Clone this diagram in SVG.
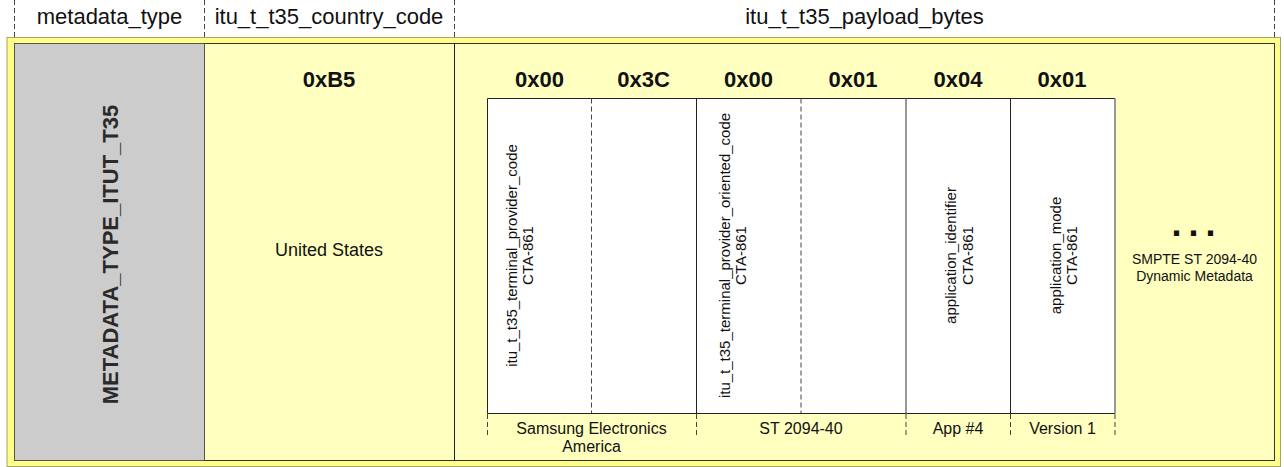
<svg xmlns="http://www.w3.org/2000/svg" width="1284" height="467" viewBox="0 0 1284 467">
<style>
text{font-family:"Liberation Sans",Arial,Helvetica,sans-serif;fill:#111}
.hdr{font-size:22px;text-anchor:middle}
.hex{font-size:22px;font-weight:bold;text-anchor:middle}
.vt{font-size:15px;text-anchor:middle}
.lbl{font-size:16px;text-anchor:middle}
.dash{stroke:#444;stroke-width:1;stroke-dasharray:5,3;fill:none}
.solid{stroke:#222;stroke-width:1;fill:none}
.grayline{stroke:#777;stroke-width:1.5;fill:none}
</style>
<rect x="7" y="37.5" width="1273.5" height="429" fill="#ffff88" stroke="#a5a36a" stroke-width="1"/>
<rect x="14.5" y="43.5" width="1260" height="417" fill="#ffffc0" stroke="#333" stroke-width="1"/>
<g id="header">
<text class="hdr" x="109.5" y="24">metadata_type</text>
<text class="hdr" x="329" y="24">itu_t_t35_country_code</text>
<text class="hdr" x="864.5" y="24">itu_t_t35_payload_bytes</text>
</g>
<g id="metadata_type">
<rect x="14.5" y="43.5" width="190" height="417" fill="#cccccc" stroke="#555" stroke-width="1"/>
<text transform="translate(118,254.5) rotate(-90)" style="font-size:22px;font-weight:bold;text-anchor:middle;fill:#2a2a2a">METADATA_TYPE_ITUT_T35</text>
</g>
<g id="country_code">
<text class="hex" x="329" y="87">0xB5</text>
<text x="329" y="256" style="font-size:18px;text-anchor:middle">United States</text>
</g>
<g id="payload">
<line class="solid" x1="454.5" y1="43.5" x2="454.5" y2="460.5"/>
<rect x="487.5" y="98.5" width="627.5" height="315" fill="#ffffff" stroke="none"/>
</g>
<g id="byte1">
<text class="hex" x="539.5" y="87">0x00</text>
<text class="vt" transform="translate(516.5,255.5) rotate(-90)"><tspan x="0" y="0">itu_t_t35_terminal_provider_code</tspan><tspan x="0" y="16.5">CTA-861</tspan></text>
</g>
<g id="byte2">
<text class="hex" x="643.5" y="87">0x3C</text>
</g>
<g id="byte3">
<text class="hex" x="748.5" y="87">0x00</text>
<text class="vt" transform="translate(729.5,255.5) rotate(-90)"><tspan x="0" y="0">itu_t_t35_terminal_provider_oriented_code</tspan><tspan x="0" y="16.5">CTA-861</tspan></text>
</g>
<g id="byte4">
<text class="hex" x="853" y="87">0x01</text>
</g>
<g id="byte5">
<text class="hex" x="958" y="87">0x04</text>
<text class="vt" transform="translate(956,255.5) rotate(-90)"><tspan x="0" y="0">application_identifier</tspan><tspan x="0" y="16.5">CTA-861</tspan></text>
</g>
<g id="byte6">
<text class="hex" x="1062" y="87">0x01</text>
<text class="vt" transform="translate(1060.5,255.5) rotate(-90)"><tspan x="0" y="0">application_mode</tspan><tspan x="0" y="16.5">CTA-861</tspan></text>
</g>
<g id="rest">
<text x="1171.5" y="236" style="font-size:36px;font-weight:bold;letter-spacing:7px;fill:#111">...</text>
<text x="1194.5" y="264" style="font-size:14px;text-anchor:middle">SMPTE ST 2094-40</text>
<text x="1194.5" y="280.5" style="font-size:14px;text-anchor:middle">Dynamic Metadata</text>
</g>
<g id="groups">
<text class="lbl" x="591.5" y="434">Samsung Electronics</text>
<text class="lbl" x="591.5" y="452">America</text>
<text class="lbl" x="801" y="434">ST 2094-40</text>
<text class="lbl" x="958" y="434">App #4</text>
<text class="lbl" x="1062.5" y="434">Version 1</text>
</g>
<g id="connectors">
<line class="dash" x1="14.5" y1="0" x2="14.5" y2="37"/>
<line class="dash" x1="204.5" y1="0" x2="204.5" y2="37"/>
<line class="dash" x1="454.5" y1="0" x2="454.5" y2="37"/>
<line class="dash" x1="1274.5" y1="0" x2="1274.5" y2="37"/>
<line class="solid" x1="487.5" y1="98.5" x2="1115" y2="98.5"/>
<line class="solid" x1="487.5" y1="413.5" x2="1115" y2="413.5"/>
<line class="solid" x1="487.5" y1="98.5" x2="487.5" y2="413.5"/>
<line class="dash" x1="591.5" y1="98.5" x2="591.5" y2="413.5"/>
<line class="solid" x1="696.5" y1="98.5" x2="696.5" y2="413.5"/>
<line class="dash" x1="801" y1="98.5" x2="801" y2="413.5"/>
<line class="grayline" x1="906" y1="98.5" x2="906" y2="413.5"/>
<line class="solid" x1="1010.5" y1="98.5" x2="1010.5" y2="413.5"/>
<line class="grayline" x1="1115" y1="98.5" x2="1115" y2="413.5"/>
<line class="dash" x1="487.5" y1="414" x2="487.5" y2="436"/>
<line class="dash" x1="696.5" y1="414" x2="696.5" y2="436"/>
<line class="dash" x1="906" y1="414" x2="906" y2="436"/>
<line class="dash" x1="1010.5" y1="414" x2="1010.5" y2="436"/>
<line class="dash" x1="1115" y1="414" x2="1115" y2="436"/>
</g>
</svg>
